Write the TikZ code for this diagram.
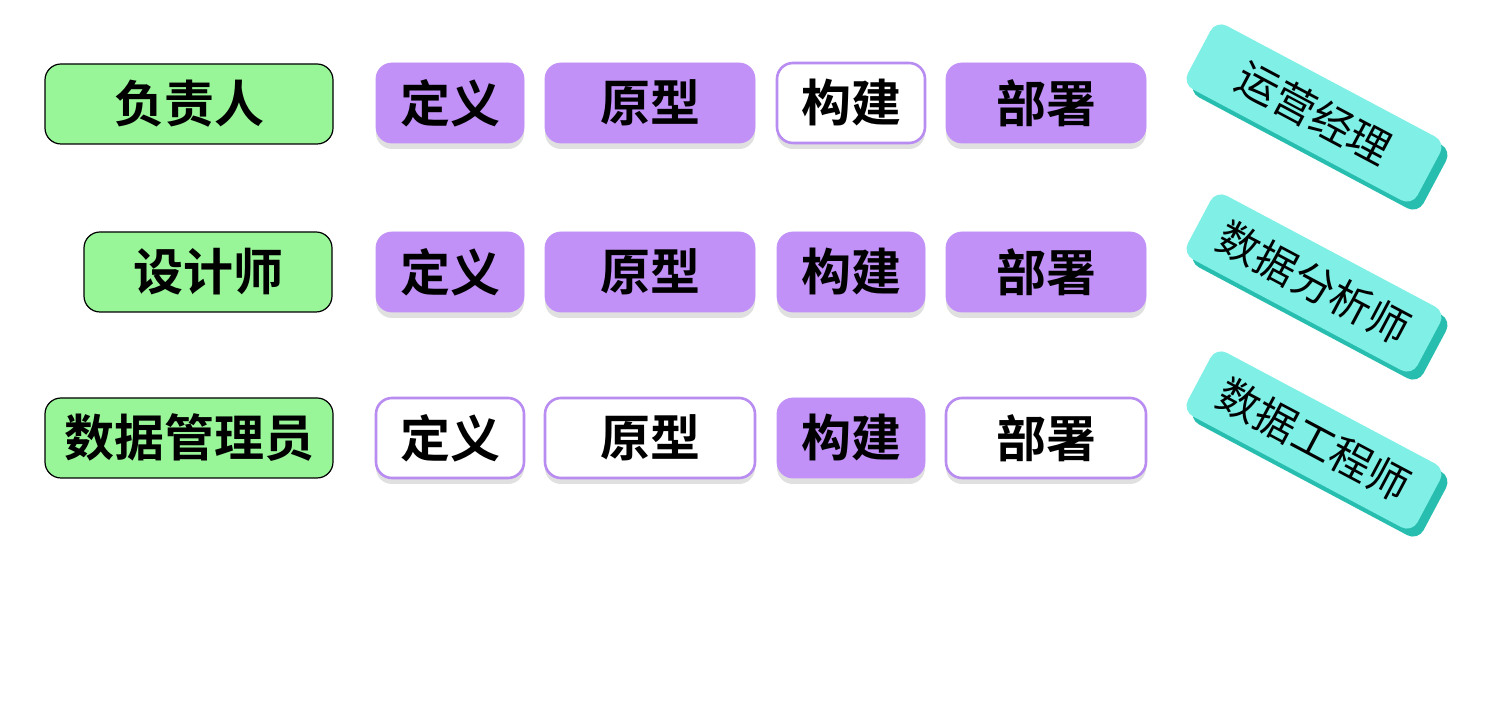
\documentclass[tikz,border=0pt]{standalone}
\usepackage{fontspec}
\newfontfamily\cjk{Noto Sans CJK SC}
\newfontfamily\cjkb{Noto Sans CJK SC Bold}
\begin{document}
\begin{tikzpicture}[x=0.5pt,y=-0.5pt,
 base/.style={rounded corners=8pt,minimum height=40pt,inner sep=0pt,font=\cjkb\fontsize{25}{28}\selectfont},
 role/.style={base,fill={rgb,255:red,152;green,245;blue,152},draw=black,line width=0.6pt},
 on/.style={base,fill={rgb,255:red,194;green,145;blue,248},draw={rgb,255:red,194;green,145;blue,248}},
 off/.style={base,fill=white,draw={rgb,255:red,184;green,140;blue,240},line width=1.3pt},
 team/.style={rounded corners=6pt,minimum width=130pt,minimum height=36pt,inner sep=0pt,rotate=-28,fill={rgb,255:red,128;green,240;blue,230},font=\cjk\fontsize{21}{24}\selectfont}]
\useasboundingbox (0,0) rectangle (1498,704);
\fill[white] (0,0) rectangle (1498,704);
\node[role,minimum width=144pt] (r1) at (189,104) {负责人};
\node[role,minimum width=124pt] (r2) at (208,272) {设计师};
\node[role,minimum width=144pt] (r3) at (189,438) {数据管理员};
\foreach \y/\a/\b/\c/\d/\n in {103/on/on/off/on/1, 272/on/on/on/on/2, 438/off/off/on/off/3}{
 \foreach \x/\w/\s/\t/\k in {450/74/\a/定义/a, 650/105/\b/原型/b, 851/74/\c/构建/c, 1046/100/\d/部署/d}{
  \fill[black!12,rounded corners=8pt] (\x-\w,\y-38) rectangle (\x+\w,\y+46);
  \node[\s,minimum width=\w pt] (p\n\k) at (\x,\y) {\t};
 }}
\foreach \y/\t/\n in {113/运营经理/1, 283/数据分析师/2, 440/数据工程师/3}{
 \node[team,fill={rgb,255:red,40;green,190;blue,175}] (s\n) at (1320,\y+8) {};
 \node[team] (t\n) at (1314,\y) {\t};
}
\end{tikzpicture}
\end{document}
